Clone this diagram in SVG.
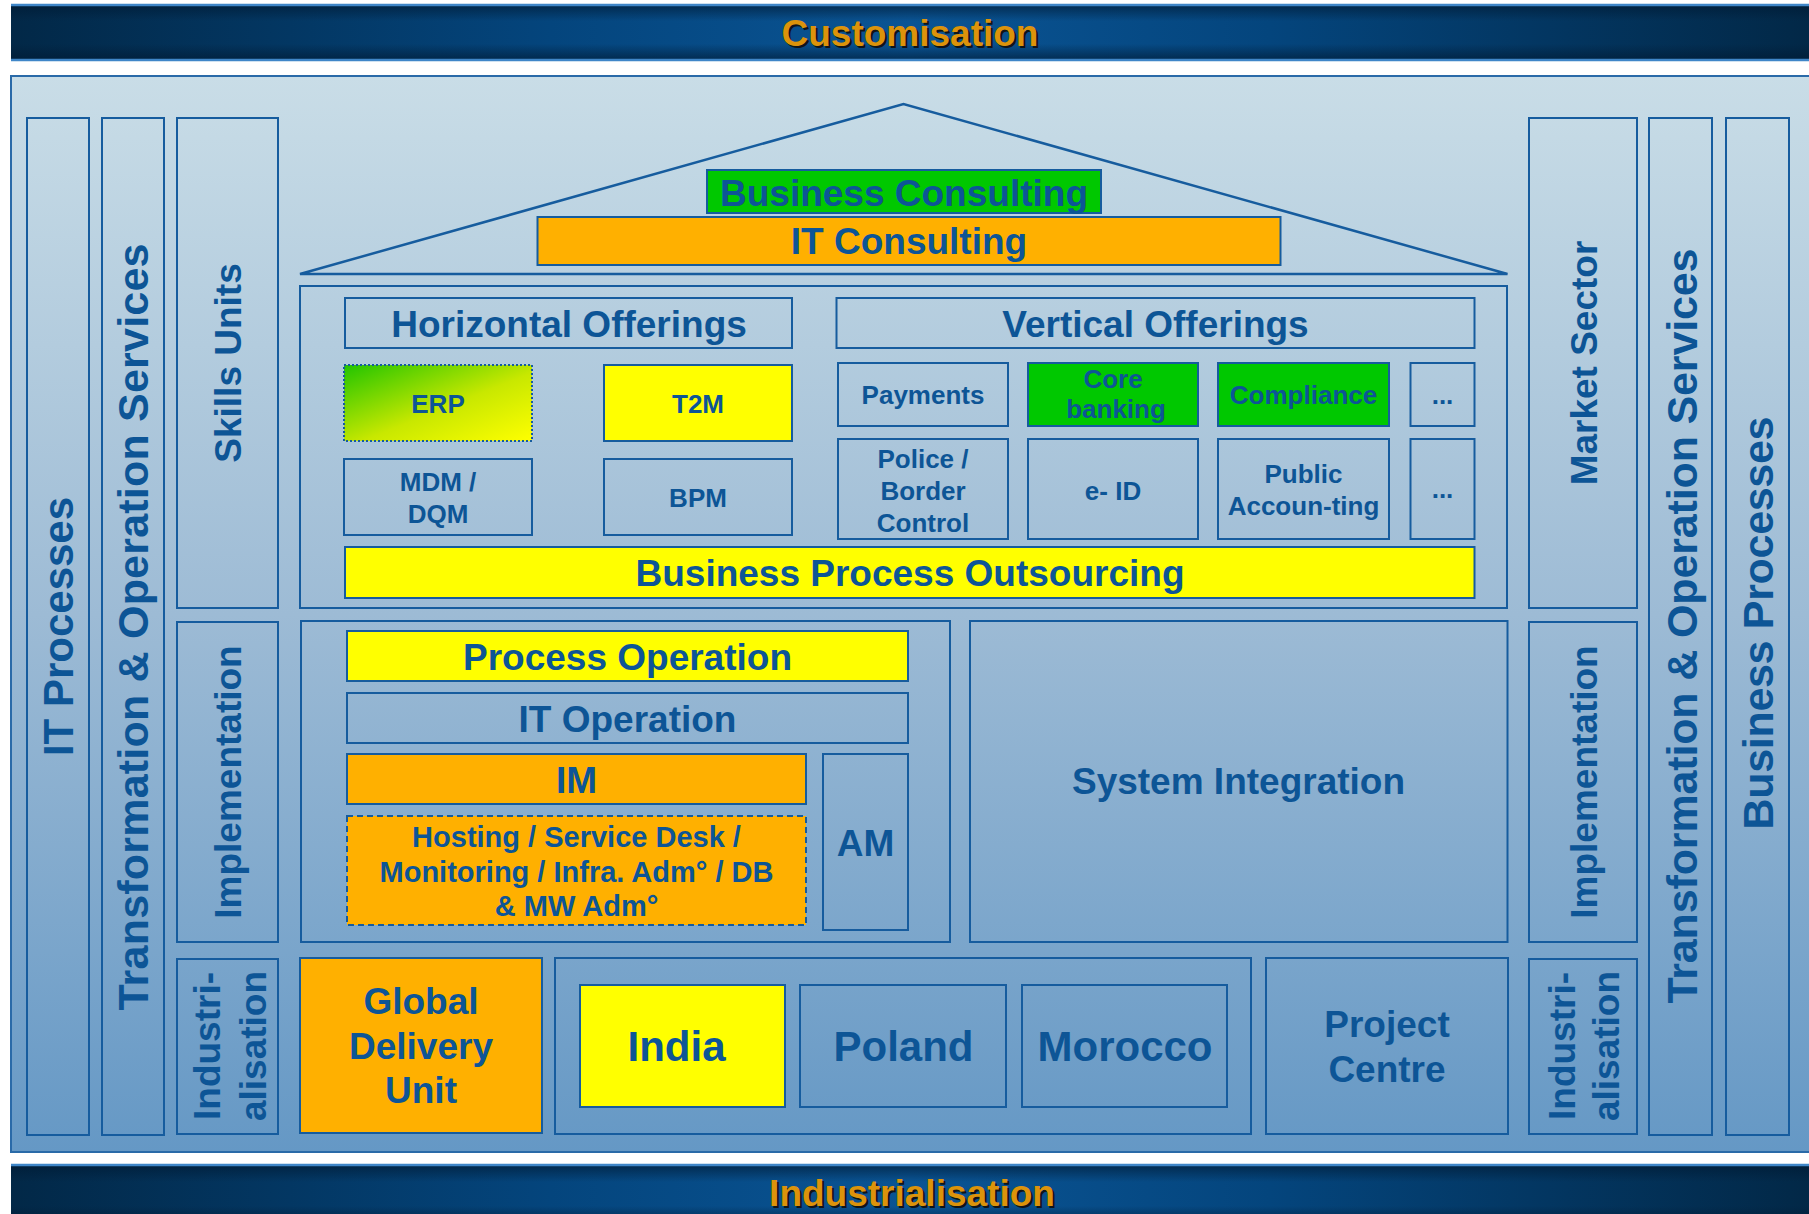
<svg xmlns="http://www.w3.org/2000/svg" width="1809" height="1214" viewBox="0 0 1809 1214">
  <defs>
    <linearGradient id="panelFill" x1="0" y1="0" x2="0" y2="1">
      <stop offset="0" stop-color="#c9dde7"/>
      <stop offset="0.5" stop-color="#9dbbd5"/>
      <stop offset="1" stop-color="#6598c5"/>
    </linearGradient>
    <linearGradient id="bannerH" x1="0" y1="0" x2="1" y2="0">
      <stop offset="0" stop-color="#022847"/>
      <stop offset="0.3" stop-color="#04457d"/>
      <stop offset="0.5" stop-color="#0a5494"/>
      <stop offset="0.7" stop-color="#04457d"/>
      <stop offset="1" stop-color="#022847"/>
    </linearGradient>
    <linearGradient id="bannerV" x1="0" y1="0" x2="0" y2="1">
      <stop offset="0" stop-color="#001a33" stop-opacity="0.7"/>
      <stop offset="0.3" stop-color="#001a33" stop-opacity="0"/>
      <stop offset="0.7" stop-color="#001a33" stop-opacity="0"/>
      <stop offset="1" stop-color="#001a33" stop-opacity="0.7"/>
    </linearGradient>
    <linearGradient id="erpFill" x1="0" y1="0" x2="1" y2="1">
      <stop offset="0" stop-color="#22c400"/>
      <stop offset="0.55" stop-color="#c8e800"/>
      <stop offset="1" stop-color="#ffff00"/>
    </linearGradient>
    <style>
      .box { fill: none; stroke: #165c9e; stroke-width: 2; }
      .green { fill: #00c800; stroke: #165c9e; stroke-width: 2; }
      .orange { fill: #ffb000; stroke: #165c9e; stroke-width: 2; }
      .yellow { fill: #ffff00; stroke: #165c9e; stroke-width: 2; }
      text { font-family: "Liberation Sans", Arial, sans-serif; font-weight: bold; fill: #0d5596; text-anchor: middle; }
      .t26 { font-size: 26px; }
      .t29 { font-size: 29px; }
      .t37 { font-size: 37px; }
      .t42 { font-size: 42px; }
      .t43 { font-size: 43px; }
      .banner-text { font-size: 37px; fill: #dc930b; }
      .banner-shadow { font-size: 37px; fill: #101418; }
      .edge { stroke: #3f86c8; stroke-width: 2.5; }
    </style>
  </defs>

  <rect width="1809" height="1214" fill="#ffffff"/>

  <!-- top banner -->
  <g id="customisation">
    <rect x="11" y="4" width="1798" height="57" fill="url(#bannerH)"/>
    <rect x="11" y="4" width="1798" height="57" fill="url(#bannerV)"/>
    <line class="edge" x1="11" y1="5" x2="1809" y2="5"/>
    <line class="edge" x1="11" y1="60" x2="1809" y2="60"/>
    <text class="banner-shadow" x="912" y="48">Customisation</text>
    <text class="banner-text" x="910" y="46">Customisation</text>
  </g>

  <!-- main background panel -->
  <rect id="panel" x="11" y="76" width="1810" height="1076" fill="url(#panelFill)" stroke="#2a6aa8" stroke-width="2"/>

  <!-- bottom banner -->
  <g id="industrialisation">
    <rect x="11" y="1164" width="1798" height="52" fill="url(#bannerH)"/>
    <rect x="11" y="1164" width="1798" height="60" fill="url(#bannerV)"/>
    <line class="edge" x1="11" y1="1165" x2="1809" y2="1165"/>
    <text class="banner-shadow" x="914" y="1208">Industrialisation</text>
    <text class="banner-text" x="912" y="1206">Industrialisation</text>
  </g>

  <!-- left side columns -->
  <g id="it-processes">
    <rect class="box" x="27" y="118" width="62" height="1017"/>
    <text class="t42" transform="translate(73.3,626.5) rotate(-90)">IT Processes</text>
  </g>
  <g id="transformation-left">
    <rect class="box" x="102" y="118" width="62" height="1017"/>
    <text class="t43" transform="translate(148.3,627) rotate(-90)" textLength="767" lengthAdjust="spacing">Transformation &amp; Operation Services</text>
  </g>
  <g id="skills-units">
    <rect class="box" x="177" y="118" width="101" height="490"/>
    <text class="t37" transform="translate(240.7,363) rotate(-90)">Skills Units</text>
  </g>
  <g id="implementation-left">
    <rect class="box" x="177" y="622" width="101" height="320"/>
    <text class="t37" transform="translate(240.7,782) rotate(-90)">Implementation</text>
  </g>
  <g id="industrialisation-left">
    <rect class="box" x="177" y="959" width="101" height="175"/>
    <text class="t37" transform="translate(220,1046) rotate(-90)">Industri-</text>
    <text class="t37" transform="translate(265.7,1046) rotate(-90)">alisation</text>
  </g>

  <!-- right side columns -->
  <g id="market-sector">
    <rect class="box" x="1529" y="118" width="108" height="490"/>
    <text class="t37" transform="translate(1597.3,363) rotate(-90)">Market Sector</text>
  </g>
  <g id="implementation-right">
    <rect class="box" x="1529" y="622" width="108" height="320"/>
    <text class="t37" transform="translate(1597.3,782) rotate(-90)">Implementation</text>
  </g>
  <g id="industrialisation-right">
    <rect class="box" x="1529" y="959" width="108" height="175"/>
    <text class="t37" transform="translate(1575,1046) rotate(-90)">Industri-</text>
    <text class="t37" transform="translate(1619,1046) rotate(-90)">alisation</text>
  </g>
  <g id="transformation-right">
    <rect class="box" x="1649" y="118" width="63" height="1017"/>
    <text class="t43" transform="translate(1696.7,626) rotate(-90)" textLength="755" lengthAdjust="spacing">Transformation &amp; Operation Services</text>
  </g>
  <g id="business-processes">
    <rect class="box" x="1726" y="118" width="63" height="1017"/>
    <text class="t43" transform="translate(1773.3,623) rotate(-90)" textLength="413" lengthAdjust="spacing">Business Processes</text>
  </g>

  <!-- roof -->
  <g id="roof">
    <polygon points="300,274 903.5,104 1507.5,274" fill="none" stroke="#165c9e" stroke-width="2.5"/>
  </g>
  <g id="business-consulting">
    <rect class="green" x="707" y="170" width="394" height="43"/>
    <text class="t37" x="904" y="205.5">Business Consulting</text>
  </g>
  <g id="it-consulting">
    <rect class="orange" x="537.5" y="217" width="743" height="48"/>
    <text class="t37" x="909" y="254">IT Consulting</text>
  </g>

  <!-- offerings block -->
  <g id="offerings">
    <rect class="box" x="300" y="286" width="1207" height="322"/>
  </g>
  <g id="horizontal-offerings">
    <rect class="box" x="345" y="298" width="447" height="50"/>
    <text class="t37" x="569" y="336.5">Horizontal Offerings</text>
  </g>
  <g id="vertical-offerings">
    <rect class="box" x="836.5" y="298" width="638" height="50"/>
    <text class="t37" x="1155.5" y="336.5">Vertical Offerings</text>
  </g>
  <g id="erp">
    <rect x="344" y="365" width="188" height="76" fill="url(#erpFill)" stroke="#165c9e" stroke-width="2" stroke-dasharray="2,2"/>
    <text class="t26" x="438" y="412.5">ERP</text>
  </g>
  <g id="t2m">
    <rect class="yellow" x="604" y="365" width="188" height="76"/>
    <text class="t26" x="698" y="412.5">T2M</text>
  </g>
  <g id="mdm-dqm">
    <rect class="box" x="344" y="459" width="188" height="76"/>
    <text class="t26" x="438" y="490.5">MDM /</text>
    <text class="t26" x="438" y="522.5">DQM</text>
  </g>
  <g id="bpm">
    <rect class="box" x="604" y="459" width="188" height="76"/>
    <text class="t26" x="698" y="506.5">BPM</text>
  </g>
  <g id="payments">
    <rect class="box" x="838" y="363" width="170" height="63"/>
    <text class="t26" x="923" y="403.5">Payments</text>
  </g>
  <g id="core-banking">
    <rect class="green" x="1028" y="363" width="170" height="63"/>
    <text class="t26" x="1113" y="388">Core</text>
    <text class="t26" x="1116" y="417.5">banking</text>
  </g>
  <g id="compliance">
    <rect class="green" x="1218" y="363" width="171" height="63"/>
    <text class="t26" x="1303.5" y="403.5">Compliance</text>
  </g>
  <g id="more-1">
    <rect class="box" x="1410.5" y="363" width="64" height="63"/>
    <text class="t26" x="1442.5" y="403.5">...</text>
  </g>
  <g id="police-border">
    <rect class="box" x="838" y="439" width="170" height="100"/>
    <text class="t26" x="923" y="468.3">Police /</text>
    <text class="t26" x="923" y="500">Border</text>
    <text class="t26" x="923" y="531.7">Control</text>
  </g>
  <g id="e-id">
    <rect class="box" x="1028" y="439" width="170" height="100"/>
    <text class="t26" x="1113" y="500">e- ID</text>
  </g>
  <g id="public-accounting">
    <rect class="box" x="1218" y="439" width="171" height="100"/>
    <text class="t26" x="1303.5" y="483.3">Public</text>
    <text class="t26" x="1303.5" y="515">Accoun-ting</text>
  </g>
  <g id="more-2">
    <rect class="box" x="1410.5" y="439" width="64" height="100"/>
    <text class="t26" x="1442.5" y="498">...</text>
  </g>
  <g id="bpo">
    <rect class="yellow" x="345" y="547" width="1129.5" height="51"/>
    <text class="t37" x="910" y="585.5">Business Process Outsourcing</text>
  </g>

  <!-- operations block -->
  <g id="operations">
    <rect class="box" x="301" y="621" width="649" height="321"/>
  </g>
  <g id="process-operation">
    <rect class="yellow" x="347" y="631" width="561" height="50"/>
    <text class="t37" x="627.5" y="669.5">Process Operation</text>
  </g>
  <g id="it-operation">
    <rect class="box" x="347" y="693" width="561" height="50"/>
    <text class="t37" x="627.5" y="731.5">IT Operation</text>
  </g>
  <g id="im">
    <rect class="orange" x="347" y="754" width="459" height="50"/>
    <text class="t37" x="576.5" y="792.5">IM</text>
  </g>
  <g id="hosting">
    <rect x="347" y="816" width="459" height="109" fill="#ffb000" stroke="#165c9e" stroke-width="2" stroke-dasharray="6,4"/>
    <text class="t29" x="576.5" y="846.7">Hosting / Service Desk /</text>
    <text class="t29" x="576.5" y="881.7">Monitoring / Infra. Adm° / DB</text>
    <text class="t29" x="576.5" y="916">&amp; MW Adm°</text>
  </g>
  <g id="am">
    <rect class="box" x="823" y="754" width="85" height="176"/>
    <text class="t37" x="865.5" y="856">AM</text>
  </g>
  <g id="system-integration">
    <rect class="box" x="970" y="621" width="537.5" height="321"/>
    <text class="t37" x="1238.5" y="794">System Integration</text>
  </g>

  <!-- delivery row -->
  <g id="global-delivery-unit">
    <rect class="orange" x="300" y="958" width="242" height="175"/>
    <text class="t37" x="421" y="1014">Global</text>
    <text class="t37" x="421" y="1058.5">Delivery</text>
    <text class="t37" x="421" y="1103">Unit</text>
  </g>
  <g id="delivery-centres">
    <rect class="box" x="555" y="958" width="696" height="176"/>
  </g>
  <g id="india">
    <rect class="yellow" x="580" y="985" width="205" height="122"/>
    <text class="t42" x="676.5" y="1061">India</text>
  </g>
  <g id="poland">
    <rect class="box" x="800" y="985" width="206" height="122"/>
    <text class="t42" x="903.5" y="1061">Poland</text>
  </g>
  <g id="morocco">
    <rect class="box" x="1022" y="985" width="205" height="122"/>
    <text class="t42" x="1125" y="1061">Morocco</text>
  </g>
  <g id="project-centre">
    <rect class="box" x="1266" y="958" width="242" height="176"/>
    <text class="t37" x="1387" y="1037.3">Project</text>
    <text class="t37" x="1387" y="1081.7">Centre</text>
  </g>

  <g id="connectors"/>
</svg>
